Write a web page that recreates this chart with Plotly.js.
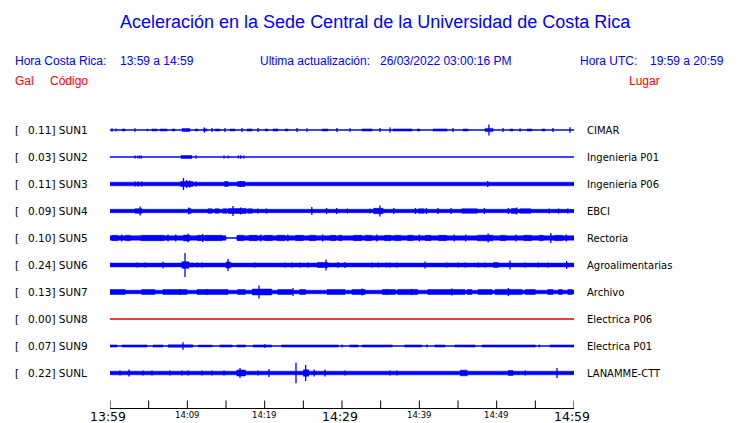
<!DOCTYPE html>
<html><head><meta charset="utf-8">
<script src="https://cdn.plot.ly/plotly-3.0.1.min.js"></script>
<style>body{margin:0;background:#fff}#chart{width:740px;height:423px}</style>
</head><body><div id="chart"></div>
<script>
// ---- data ----
const codes  = ['SUN1','SUN2','SUN3','SUN4','SUN5','SUN6','SUN7','SUN8','SUN9','SUNL'];
const places = ['CIMAR','Ingenieria P01','Ingenieria P06','EBCI','Rectoria','Agroalimentarias','Archivo','Electrica P06','Electrica P01','LANAMME-CTT'];
const peakGal = ['0.11','0.03','0.11','0.09','0.10','0.24','0.13','0.00','0.07','0.22'];
const tickMinutes = [0,5,10,15,20,25,30,35,40,45,50,55,60];
const bigLabelMin = [0,30,60];
const bigLabelTxt = ['13:59','14:29','14:59'];
const smallLabelMin = [10,20,40,50];
const smallLabelTxt = ['14:09','14:19','14:39','14:49'];

// baseline noise segments [startMin, endMin, halfAmp]
const baseSUN1 = [[0,60,0.4]];
const baseSUN2 = [[0,60,0.4]];
const baseSUN3 = [[0,60,1.8]];
const baseSUN4 = [[0,60,1.7]];
const baseSUN5 = [[0,15.0,2.2],[15.0,16.4,0.5],[16.4,60,2.2]];
const baseSUN6 = [[0,60,1.9]];
const baseSUN7 = [[0,60,1.8]];
const baseSUN8 = [[0,60,0.4]];
const baseSUN9 = [[0,60,0.4]];
const baseSUNL = [[0,60,1.8]];

// bursts [startMin, endMin, halfAmp]
const burstSUN1 = [[1.55,1.94,1.0],[4.78,4.91,1.0],[5.43,6.08,1.0],[6.47,7.37,1.0],[8.02,8.41,1.0],[9.31,10.34,1.4],[10.99,11.38,1.0],[12.03,12.54,1.1],[13.58,14.22,1.0],[15.52,16.16,1.0],[17.72,18.36,1.1],[20.04,20.43,1.0],[21.08,21.72,1.1],[22.63,23.02,1.0],[27.41,28.19,1.0],[32.59,33.88,1.1],[36.59,39.05,1.1],[39.70,40.09,1.0],[41.77,43.58,1.1],[45.65,46.29,1.0],[48.49,49.53,1.6],[51.72,52.11,1.0],[53.92,54.57,1.0],[55.86,56.25,1.0]];
const burstSUN2 = [[9.18,10.6,1.5]];
const burstSUN3 = [[9.1,10.7,2.5],[14.8,15.3,2.3],[16.5,17.4,2.5]];
const burstSUN4 = [[3.23,4.14,2.3],[10.1,10.5,2.3],[12.67,13.2,2.2],[13.6,14.1,2.2],[14.6,15.1,2.3],[15.3,17.6,2.5],[17.8,18.4,2.2],[34.1,35.3,2.7],[39.9,40.6,2.2],[45.5,47.5,2.2],[51.9,52.6,2.5],[53.0,54.4,2.2]];
const burstSUN5 = [[0.3,1.0,2.7],[2.0,2.6,2.7],[4.0,7.0,2.7],[9.5,10.3,2.9],[11.3,12.0,2.7],[12.3,14.5,2.7],[16.5,17.3,2.7],[18,19,2.7],[20,21,2.7],[21.6,22.6,2.7],[24,25,2.7],[25.8,26.6,2.7],[28.5,29.2,2.7],[29.6,30.0,2.7],[31.5,32.5,2.7],[33.0,33.8,2.7],[35.5,36.3,2.7],[36.8,37.6,2.7],[38.5,39.2,2.7],[40.8,41.5,2.7],[42.5,43.5,2.7],[47.5,49.5,2.8],[50.5,51.2,2.7],[53.5,54.5,2.7],[55.5,56.0,2.7],[57.5,58.5,2.7]];
const burstSUN6 = [[9.3,10.2,3.3],[15.0,15.6,3.0],[26.8,28.2,2.5],[49.6,50.2,2.6]];
const burstSUN7 = [[0,1.94,2.4],[4.1,5.8,2.4],[6.85,9.95,2.4],[11.25,15.26,2.4],[16.5,17.5,2.4],[18.4,20.9,3.0],[21.7,23.5,2.4],[24.5,25.3,2.4],[28.06,30.39,2.4],[31.3,33.0,2.4],[35.2,36.9,2.4],[37.2,39.8,2.6],[41.1,43.7,2.4],[43.7,45.9,2.4],[46.2,46.8,2.4],[47.6,49.4,2.4],[49.8,53.3,2.6],[53.7,55.0,2.4],[56.6,57.3,2.4],[58.0,58.5,2.4],[59.2,59.8,2.4]];
const burstSUN8 = [];
const burstSUN9 = [[0,0.9,1.1],[1.55,4.8,1.1],[5.56,6.85,1.1],[7.5,10.7,1.2],[11.4,13.2,0.9],[14.2,15.8,1.1],[16.4,17.5,1.1],[18.5,20.9,1.1],[22.2,29.5,1.1],[31.0,32.1,1.1],[32.6,36.5,1.1],[38.1,40.3,1.1],[42.0,43.3,1.1],[44.6,47.2,1.1],[48.1,55.0,1.1],[56.9,60,1.1]];
const burstSUNL = [[16.4,17.5,3.0],[25.0,25.7,3.2],[45.3,46.2,2.8],[51.5,52.1,2.5]];

// single spikes [min, halfAmp]
const spikeSUN1 = [[0.26,1.8],[0.78,1.5],[3.23,1.8],[12.2,2.5],[13.19,2],[14.87,2],[17.07,2],[19.14,2],[24.18,2],[25.47,1.8],[29.35,2],[31.03,1.8],[34.91,2],[36.21,2.5],[44.35,2],[49.0,5.5],[50.82,2],[53.02,1.8],[57.28,2],[59.48,2.7]];
const spikeSUN2 = [[3.25,1.6],[3.6,1.6],[3.85,1.6],[4.05,1.6],[11.12,1.8],[14.74,1.6],[15.26,1.6],[16.6,1.6],[16.9,1.8],[17.3,1.5]];
const spikeSUN3 = [[3.25,2.4],[3.65,2.4],[4.1,2.4],[9.5,6],[9.9,4],[10.3,3.5],[11.1,2.5],[15.0,3],[16.9,3],[17.3,2.8],[48.84,3]];
const spikeSUN4 = [[3.9,4.5],[10.2,3.5],[15.9,5],[16.9,3.5],[19.1,2.5],[20.2,2.5],[26.1,4],[28.0,3],[29.3,3],[30.7,2.5],[33.6,2.5],[34.9,5.5],[36.7,3],[39.5,3],[40.9,3],[42.4,3],[44.1,3],[48.4,3],[51.5,3],[52.6,3.5],[56.8,2.5],[58.0,2.5],[59.2,2.5]];
const spikeSUN5 = [[10.1,4.3],[12.0,4],[48.9,4.5],[57.0,5],[1.5,3.5],[7.5,3.5],[8.5,3.5],[19.5,3.5],[23.0,3.5],[27.5,3.5],[34.5,3.5],[40.0,3.5],[44.5,3.5],[46.0,3.5],[52.5,3.5],[59.0,3.5]];
const spikeSUN6 = [[3.49,2.6],[4.53,2.6],[6.85,3.2],[9.70,12],[10.6,2.6],[11.25,2.6],[11.9,2.6],[15.26,6],[18.75,2.5],[22.63,2.5],[23.53,2.5],[24.57,2.5],[25.6,2.5],[27.93,5.5],[29.48,3],[30.39,3],[33.88,2.5],[34.7,2.5],[35.77,2.5],[36.2,2.5],[37.07,2.5],[40.73,3.5],[43.53,2.5],[45.04,2.5],[45.9,2.5],[47.63,2.5],[48.49,2.5],[51.72,4.5],[53.66,2.5],[55.39,2.5],[56.68,2.5],[59.05,4]];
const spikeSUN7 = [[19.27,6.5],[23.66,4],[32.6,3.5],[44.2,3.5],[51.5,4],[9.0,3],[12.5,3],[35.8,3],[39.0,3]];
const spikeSUN8 = [];
const spikeSUN9 = [[9.44,3.8],[20.0,1.8],[30.0,1.5],[41.0,1.5],[55.5,1.5]];
const spikeSUNL = [[1.29,2.5],[2.46,3.5],[4.27,2.5],[5.43,2.5],[7.76,2.5],[9.3,2.5],[10.1,2.5],[11.9,2.5],[13.19,2.5],[14.74,2.5],[16.81,5],[19.14,2.5],[20.56,4],[24.05,10.3],[25.3,8],[26.4,3.5],[27.8,3.5],[30.4,2.5],[36.2,2.5],[37.1,2.5],[53.7,2.5],[57.8,5]];

const bases  = [baseSUN1,baseSUN2,baseSUN3,baseSUN4,baseSUN5,baseSUN6,baseSUN7,baseSUN8,baseSUN9,baseSUNL];
const bursts = [burstSUN1,burstSUN2,burstSUN3,burstSUN4,burstSUN5,burstSUN6,burstSUN7,burstSUN8,burstSUN9,burstSUNL];
const spikes = [spikeSUN1,spikeSUN2,spikeSUN3,spikeSUN4,spikeSUN5,spikeSUN6,spikeSUN7,spikeSUN8,spikeSUN9,spikeSUNL];

// ---- drawing ----
const GAIN = 1/27;
const BLUE = '#0000ff', RED = '#ff0000';
const PL = 110, PR = 574, PT = 103, PB = 412;
const Y_BOTTOM = 1 - (PB - PT) / 27;
const AXIS_Y = 1 - (408.5 - PT) / 27;   // time-axis baseline level
const traces = [];
codes.forEach((c, i) => {
  const row = -i;
  const col = (c === 'SUN8') ? '#dd0000' : BLUE;
  const fx = [], fy = [];
  bases[i].concat(bursts[i]).forEach(([t0, t1, a]) => {
    const h = a * GAIN;
    fx.push(t0, t1, t1, t0, t0, null);
    fy.push(row + h, row + h, row - h, row - h, row + h, null);
  });
  traces.push({x: fx, y: fy, type: 'scatter', mode: 'lines', fill: 'toself',
    fillcolor: col, line: {color: col, width: 0.5}, hoverinfo: 'skip', showlegend: false});
  if (spikes[i].length) {
    const sx = [], sy = [];
    spikes[i].forEach(([t, a]) => {
      sx.push(t, t, null); sy.push(row + a * GAIN, row - a * GAIN, null);
    });
    traces.push({x: sx, y: sy, type: 'scatter', mode: 'lines',
      line: {color: col, width: 1.3}, hoverinfo: 'skip', showlegend: false});
  }
});
// time axis: baseline and tick marks, placed through the axis scales
const ax = [tickMinutes[0], tickMinutes[tickMinutes.length - 1]];
const tx = [], ty = [];
tickMinutes.forEach(m => { tx.push(m, m, null); ty.push(AXIS_Y, AXIS_Y + 8 / 27, null); });
traces.push({x: tx, y: ty, type: 'scatter', mode: 'lines', line: {color: '#000', width: 1}, hoverinfo: 'skip', showlegend: false});
traces.push({x: ax, y: [AXIS_Y, AXIS_Y], type: 'scatter', mode: 'lines', line: {color: '#000', width: 1.2}, hoverinfo: 'skip', showlegend: false});

const xp = px => (px - PL) / (PR - PL);
const yp = py => (PB - py) / (PB - PT);
const SANS = 'Liberation Sans, Arial, sans-serif';
const DJV = 'DejaVu Sans, sans-serif';
const ann = [];
function txt(x, y, text, opt) {
  ann.push(Object.assign({x: x, y: y, xref: 'paper', yref: 'paper', text: text, showarrow: false,
    xanchor: 'left', yanchor: 'middle', borderpad: 0, font: {family: SANS, size: 12, color: BLUE}}, opt || {}));
}
txt(xp(375), yp(22), 'Aceleración en la Sede Central de la Universidad de Costa Rica',
  {xanchor: 'center', font: {family: SANS, size: 18, color: BLUE}});
txt(xp(14), yp(61), 'Hora Costa Rica:');
txt(xp(119), yp(61), '13:59 a 14:59');
txt(xp(259), yp(61), 'Ultima actualización:');
txt(xp(379), yp(61), '26/03/2022 03:00:16 PM');
txt(xp(579), yp(61), 'Hora UTC:');
txt(xp(649), yp(61), '19:59 a 20:59');
txt(xp(14), yp(81), 'Gal', {font: {family: SANS, size: 12, color: RED}});
txt(xp(49), yp(81), 'Código', {font: {family: SANS, size: 12, color: RED}});
txt(xp(628), yp(81), 'Lugar', {font: {family: SANS, size: 12, color: RED}});

codes.forEach((c, i) => {
  const f = {family: DJV, size: 10.5, color: '#000'};
  ann.push({x: xp(14), y: -i, xref: 'paper', yref: 'y', text: '[', showarrow: false, xanchor: 'left', yanchor: 'middle', borderpad: 0, font: f});
  ann.push({x: xp(27), y: -i, xref: 'paper', yref: 'y', text: peakGal[i] + '] ' + c, showarrow: false, xanchor: 'left', yanchor: 'middle', borderpad: 0, font: f});
  ann.push({x: xp(586), y: -i, xref: 'paper', yref: 'y', text: places[i], showarrow: false, xanchor: 'left', yanchor: 'middle', borderpad: 0, font: {family: DJV, size: 10, color: '#000'}});
});
bigLabelMin.forEach((m, k) => ann.push({x: m, y: yp(416), xref: 'x', yref: 'paper', text: bigLabelTxt[k], showarrow: false,
  xanchor: 'center', xshift: -2, yanchor: 'middle', borderpad: 0, font: {family: DJV, size: 12.5, color: '#000'}}));
smallLabelMin.forEach((m, k) => ann.push({x: m, y: yp(414.5), xref: 'x', yref: 'paper', text: smallLabelTxt[k], showarrow: false,
  xanchor: 'center', yanchor: 'middle', borderpad: 0, font: {family: DJV, size: 8.5, color: '#000'}}));

const layout = {
  width: 740, height: 423,
  margin: {l: PL, r: 740 - PR, t: PT, b: 423 - PB, pad: 0},
  paper_bgcolor: '#fff', plot_bgcolor: '#fff',
  showlegend: false,
  xaxis: {range: [0, 60], visible: false, showgrid: false, zeroline: false, fixedrange: true},
  yaxis: {range: [Y_BOTTOM, 1], visible: false, showgrid: false, zeroline: false, fixedrange: true},
  annotations: ann
};
Plotly.newPlot('chart', traces, layout, {staticPlot: true, displayModeBar: false});
</script>
</body></html>
